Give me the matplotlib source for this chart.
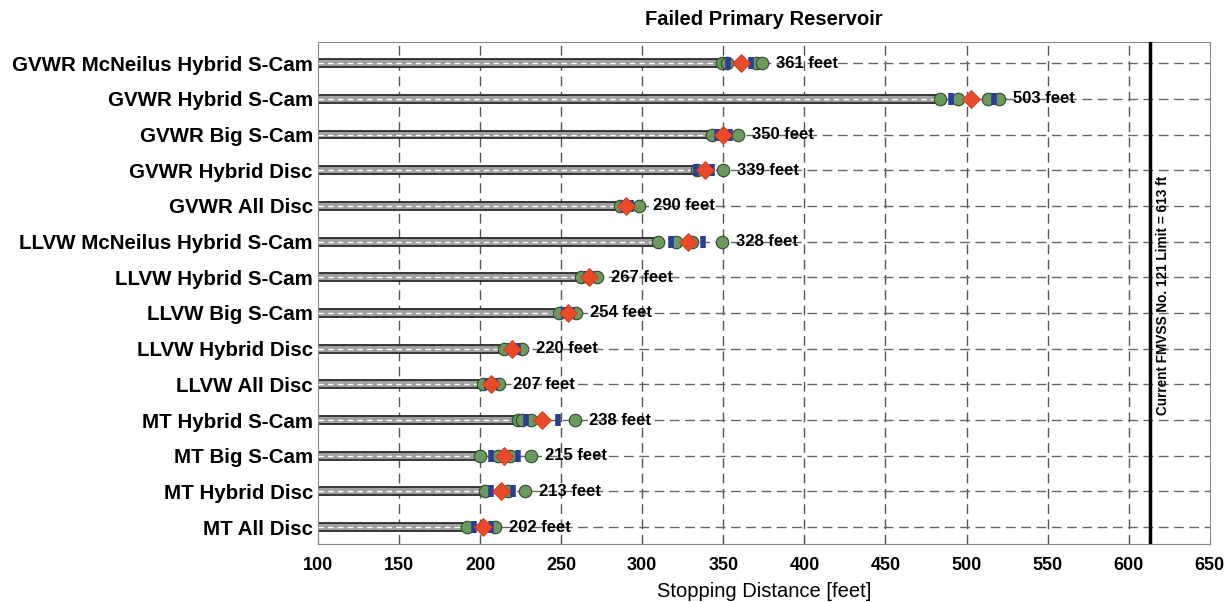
import numpy as np
import matplotlib.pyplot as plt

plt.rcParams['font.family'] = ['Liberation Sans', 'DejaVu Sans']

configs = ["GVWR McNeilus Hybrid S-Cam", "GVWR Hybrid S-Cam", "GVWR Big S-Cam",
           "GVWR Hybrid Disc", "GVWR All Disc", "LLVW McNeilus Hybrid S-Cam",
           "LLVW Hybrid S-Cam", "LLVW Big S-Cam", "LLVW Hybrid Disc", "LLVW All Disc",
           "MT Hybrid S-Cam", "MT Big S-Cam", "MT Hybrid Disc", "MT All Disc"]

# average stopping distance (red diamond, also the label)
mean_dist = [361, 503, 350, 339, 290, 328, 267, 254, 220, 207, 238, 215, 213, 202]

# individual runs (green circles)
green_runs = [
    [349, 352, 370, 374],
    [483.5, 494.5, 513.5, 520],
    [343, 359],
    [334, 350],
    [286, 298],
    [310, 321, 331, 349],
    [262, 272],
    [249, 259],
    [215, 226],
    [202, 212],
    [223.5, 226, 231.5, 258.5],
    [200, 211, 218.5, 231.5],
    [203, 217, 227.5],
    [192, 209],
]

# blue markers
blue_marks = [
    [353, 367],
    [490.5, 517],
    [346, 354],
    [333, 343],
    [288, 293],
    [318, 337.5],
    [265.5, 269],
    [252, 256.5],
    [218.5, 223.5],
    [204.5, 209],
    [228.5, 248],
    [207, 223.5],
    [207, 220.5],
    [196, 207],
]

fmvss_limit = 613
xticks = [100, 150, 200, 250, 300, 350, 400, 450, 500, 550, 600, 650]

fig = plt.figure(figsize=(12.32, 6.02), dpi=100)
ax = fig.add_axes([0.258, 0.096, 0.724, 0.834])

n = len(configs)
ypos = np.arange(n)[::-1]

ax.set_xlim(100, 650)
ax.set_ylim(-0.48, n - 0.41)

# grid
for xt in xticks[1:-1]:
    ax.axvline(xt, color='#555555', lw=1.0, ls=(0, (7, 4)), zorder=1)
for y in ypos:
    ax.axhline(y, color='#666666', lw=1.0, ls=(0, (7, 4)), zorder=1)

for i, y in enumerate(ypos):
    bar_end = min(green_runs[i])
    ax.barh(y, bar_end - 100, left=100, height=0.22, color='#a0a0a0',
            edgecolor='#2a2a2a', lw=1.3, zorder=2)
    ax.plot([100, bar_end], [y, y], color='white', lw=1.0, ls=(0, (4, 3)), zorder=3)
    ax.plot(green_runs[i], [y] * len(green_runs[i]), 'o', ms=9, mfc='#6b9a5e',
            mec='#2d4a2a', mew=0.8, ls='none', zorder=4)
    ax.plot(blue_marks[i], [y] * len(blue_marks[i]), marker='|', ms=9, mew=4,
            color='#2c3c98', ls='none', zorder=5)
    ax.plot(mean_dist[i], y, 'D', ms=8.7, mfc='#ea4a2a', mec='#c83a20', mew=0.6,
            zorder=6)
    x_last = max(green_runs[i] + blue_marks[i])
    ax.annotate(f"{mean_dist[i]} feet", (x_last, y), xytext=(10, 0),
                textcoords='offset points', va='center', ha='left',
                fontsize=12, fontweight='bold', zorder=7)

ax.axvline(fmvss_limit, color='black', lw=2.5, zorder=6)
ax.text(fmvss_limit + 8, (n - 1) / 2, "Current FMVSS No. 121 Limit = 613 ft",
        rotation=90, va='center', ha='center', fontsize=9.8, fontweight='bold')

ax.set_yticks(ypos)
ax.set_yticklabels(configs, fontsize=14.8, fontweight='bold')
ax.set_xticks(xticks)
ax.set_xticklabels([str(v) for v in xticks], fontsize=13, fontweight='bold')
ax.tick_params(direction='in', length=4, color='#555555')
ax.tick_params(axis='x', pad=9)
ax.set_xlabel("Stopping Distance [feet]", fontsize=14.5, labelpad=6)
ax.set_title("Failed Primary Reservoir", fontsize=14.5, fontweight='bold', pad=12)
for s in ax.spines.values():
    s.set_color('#888888')

fig.savefig('out.png', dpi=100)
